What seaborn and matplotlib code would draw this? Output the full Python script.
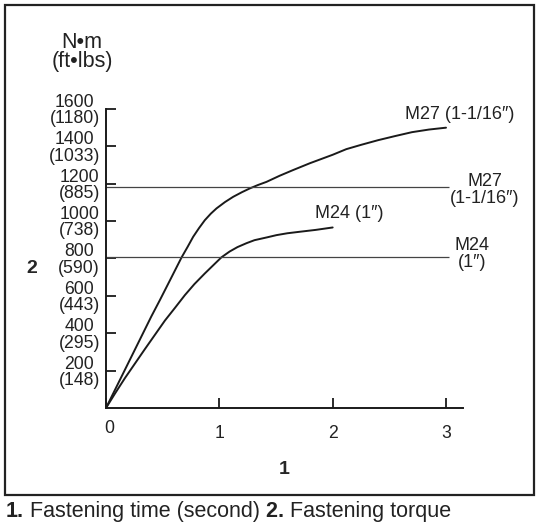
import numpy as np
import pandas as pd
import seaborn as sns
import matplotlib.pyplot as plt
import matplotlib.transforms as mtrans
from matplotlib.patches import Rectangle

# torque curves (time in s, torque in N.m)
time_m27 = [0, 0.2, 0.4, 0.476, 0.57, 0.667, 0.72, 0.769, 0.82, 0.872, 0.925, 0.975,
            1.05, 1.122, 1.2, 1.269, 1.34, 1.416, 1.533, 1.65, 1.8, 2.0, 2.12, 2.25,
            2.4, 2.55, 2.7, 2.85, 3.0]
torque_m27 = [0, 245, 490, 578, 690, 806, 862, 916, 962, 1005, 1040, 1068,
              1102, 1130, 1155, 1175, 1193, 1210, 1243, 1273, 1310, 1355, 1385, 1408,
              1433, 1455, 1476, 1490, 1500]
time_m24 = [0, 0.08, 0.167, 0.343, 0.52, 0.61, 0.696, 0.78, 0.872, 0.95, 1.018, 1.09,
            1.16, 1.24, 1.31, 1.42, 1.504, 1.6, 1.709, 1.85, 2.0]
torque_m24 = [0, 78, 160, 315, 468, 537, 604, 663, 720, 766, 806, 837,
              861, 882, 898, 913, 925, 935, 943, 953, 966]

# reference torque lines
ref_names = ['M27', 'M24']
ref_torque = [1180, 810]
ref_end = 3.03

nm_ticks = [200, 400, 600, 800, 1000, 1200, 1400, 1600]
ftlb_ticks = [148, 295, 443, 590, 738, 885, 1033, 1180]
time_ticks = [0, 1, 2, 3]

sns.set_theme(style='white')
plt.rcParams['font.family'] = ['Liberation Sans', 'DejaVu Sans']
plt.rcParams['text.color'] = '#222222'

ink = '#1a1a1a'

df = pd.concat([
    pd.DataFrame({'time': time_m27, 'torque': torque_m27, 'bolt': 'M27'}),
    pd.DataFrame({'time': time_m24, 'torque': torque_m24, 'bolt': 'M24'}),
])

fig = plt.figure(figsize=(5.43, 5.27), dpi=100)
ax = fig.add_axes([0.1952, 0.2258, 0.6575, 0.5674])

sns.lineplot(ax=ax, data=df, x='time', y='torque', hue='bolt', palette=[ink, ink],
             estimator=None, sort=False, legend=False, linewidth=1.4)
ax.hlines(ref_torque, 0, ref_end, color='#444444', linewidth=0.9)

ax.set_xlim(0, 3.15)
ax.set_ylim(0, 1600)
for s in ['top', 'right']:
    ax.spines[s].set_visible(False)
for s in ['left', 'bottom']:
    ax.spines[s].set_linewidth(1.4)
    ax.spines[s].set_color(ink)

ax.set_yticks(nm_ticks, labels=[f'{n}\n({f})' for n, f in zip(nm_ticks, ftlb_ticks)])
ax.set_xticks(time_ticks, labels=[str(t) for t in time_ticks])
ax.tick_params(direction='in', length=7, width=1.3, color=ink, labelcolor='#222222', labelsize=12.7)
ax.tick_params(axis='y', pad=4.3, left=True)
ax.tick_params(axis='x', pad=12, bottom=True)
plt.setp(ax.get_yticklabels(), multialignment='center', linespacing=0.95)

# the "0" sits a little up and right of the corner
lbl0 = ax.get_xticklabels()[0]
lbl0.set_transform(lbl0.get_transform() + mtrans.ScaledTranslation(2.7 / 72, 3.6 / 72, fig.dpi_scale_trans))

ax.set_xlabel('1', fontsize=14, fontweight='bold')
ax.xaxis.set_label_coords(0.5, -0.204)
ax.xaxis.label.set_va('center')
ax.set_ylabel('2', fontsize=14, fontweight='bold', rotation=0, va='center', ha='center')
ax.yaxis.set_label_coords(-0.207, 0.468)

ax.text(-0.067, 1.19, 'N•m\n(ft•lbs)', transform=ax.transAxes, ha='center', va='center',
        fontsize=15.5, linespacing=0.9, clip_on=False)

# curve and line annotations
ax.text(2.64, 1572, 'M27 (1-1/16″)', fontsize=13, ha='left', va='center', clip_on=False)
ax.text(1.84, 1043, 'M24 (1″)', fontsize=13, ha='left', va='center', clip_on=False)
ax.text(3.34, 1166, 'M27\n(1-1/16″)', fontsize=13, ha='center', va='center',
        linespacing=0.95, clip_on=False)
ax.text(3.23, 824, 'M24\n(1″)', fontsize=13, ha='center', va='center',
        linespacing=0.95, clip_on=False)

# outer frame
fig.add_artist(Rectangle((5 / 543, 1 - 495 / 527), 529 / 543, 490 / 527, transform=fig.transFigure,
                         fill=False, edgecolor='#222222', linewidth=1.6))

# caption with bold numbers
parts = [('1.', 'bold'), (' Fastening time (second)', 'normal'), (' 2.', 'bold'), (' Fastening torque', 'normal')]
prev = fig.text(0.011, 0.030, parts[0][0], fontsize=15.5, fontweight=parts[0][1], ha='left', va='center')
for txt, w in parts[1:]:
    prev = ax.annotate(txt, xy=(1, 0), xycoords=prev, ha='left', va='bottom',
                       fontsize=15.5, fontweight=w, annotation_clip=False)

fig.savefig('out.png', dpi=100)
